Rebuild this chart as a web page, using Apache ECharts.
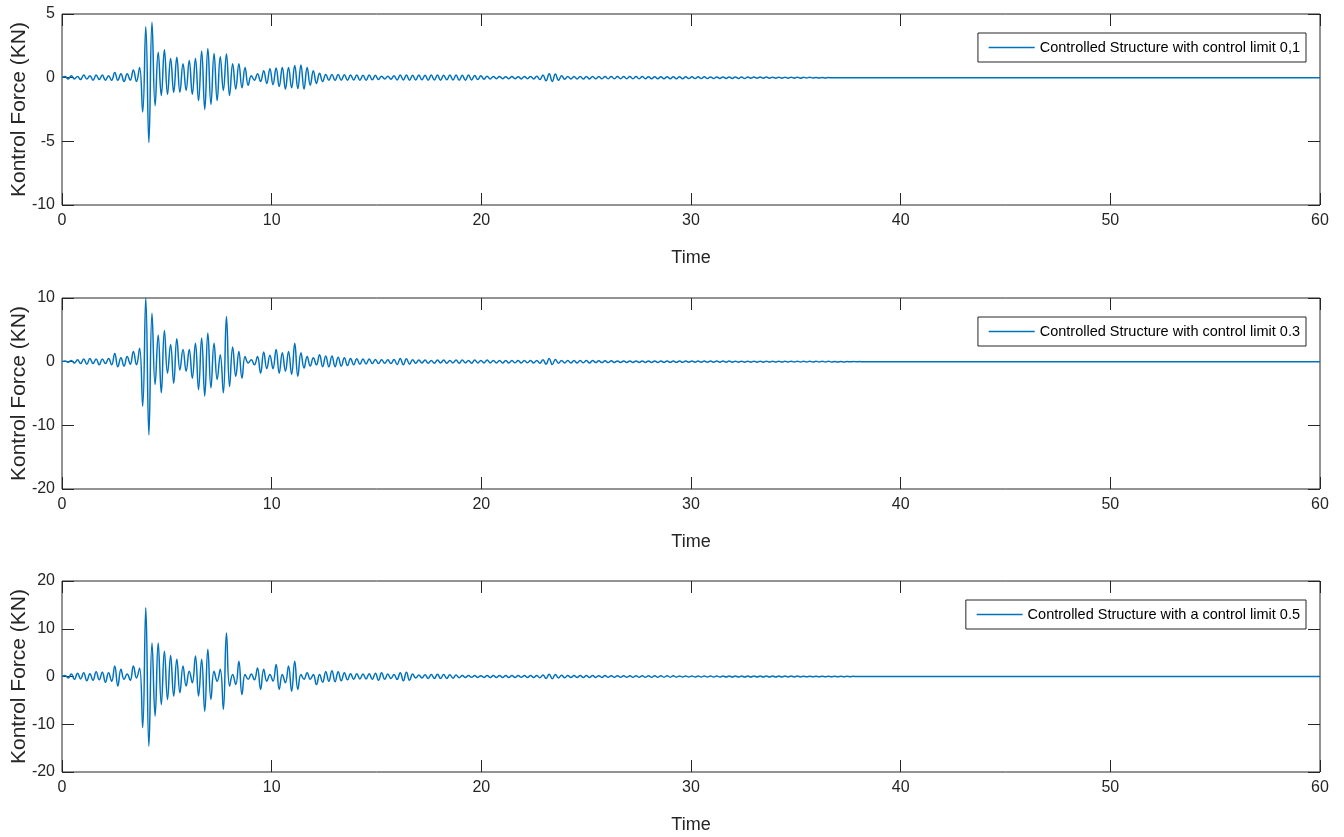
<!DOCTYPE html>
<html><head><meta charset="utf-8">
<script src="https://cdn.jsdelivr.net/npm/echarts@6/dist/echarts.min.js"></script>
<style>html,body{margin:0;padding:0;background:#fff}#c{width:1344px;height:837px}</style>
</head><body><div id="c"></div>
<script>
// ---- data: successive peaks / troughs, one every SAMPLE_DT seconds ----
const SAMPLE_DT = 0.148;
const END_POINT = [60, 0];
const xTicks = [0, 10, 20, 30, 40, 50, 60];
const seriesNames = [
  'Controlled Structure with control limit 0,1',
  'Controlled Structure with control limit 0.3',
  'Controlled Structure with a control limit 0.5'
];
const yRanges = [[-10, 5, 5], [-20, 10, 10], [-20, 20, 10]]; // min, max, interval

const force01 = [
  0, 0.1, -0.1, 0.15, -0.1, 0.1, -0.15, 0.2, -0.1, 0.15,
  -0.2, 0.2, -0.15, 0.2, -0.2, 0.15, -0.2, 0.4, -0.2, 0.3,
  -0.3, 0.3, -0.2, 0.6, -0.3, 0.8, -2.7, 4.0, -5.1, 4.35,
  -2.2, 2.0, -1.4, 2.2, -1.3, 1.5, -1.15, 1.6, -1.15, 1.1,
  -1.0, 1.35, -1.3, 1.5, -1.8, 2.1, -2.5, 2.3, -2.1, 1.9,
  -1.8, 1.65, -1.0, 1.85, -1.4, 1.1, -0.9, 1.1, -0.8, 0.8,
  -0.6, 0.15, -0.2, 0.3, -0.3, 0.55, -0.45, 0.7, -0.55, 0.75,
  -0.7, 0.8, -0.9, 0.8, -0.8, 0.95, -0.85, 1.0, -0.9, 0.8,
  -0.6, 0.55, -0.45, 0.35, -0.3, 0.25, -0.2,
  0.25, -0.22, 0.24, -0.2, 0.22, -0.2, 0.2, -0.18, 0.2, -0.2,
  0.18, -0.2, 0.2, -0.17, 0.18, -0.15, 0.12, -0.1, 0.12, -0.12,
  0.15, -0.18, 0.2, -0.18, 0.2, -0.2, 0.18, -0.18, 0.2, -0.17,
  0.18, -0.2, 0.2, -0.18, 0.2, -0.2, 0.18, -0.17, 0.2, -0.18,
  0.2, -0.2, 0.18, -0.2, 0.2, -0.18, 0.17, -0.15, 0.15, -0.12,
  0.12, -0.1, 0.1, -0.08, 0.1, -0.08, 0.08, -0.08, 0.1, -0.08,
  0.08, -0.1, 0.1, -0.08, 0.1, -0.1, 0.12, -0.15, 0.2, -0.25,
  0.3, -0.3, 0.28, -0.2, 0.15, -0.12, 0.1, -0.1, 0.1, -0.1,
  0.1, -0.1, 0.09, -0.1, 0.1, -0.09, 0.1, -0.09, 0.09, -0.09,
  0.09, -0.09, 0.09, -0.09, 0.09, -0.09, 0.09, -0.09, 0.09, -0.09,
  0.09, -0.09, 0.08, -0.09, 0.08, -0.08, 0.08, -0.08, 0.08, -0.08,
  0.08, -0.08, 0.07, -0.08, 0.07, -0.07, 0.07, -0.07, 0.07, -0.07,
  0.07, -0.07, 0.06, -0.07, 0.06, -0.06, 0.06, -0.06, 0.06, -0.06,
  0.06, -0.06, 0.05, -0.06, 0.05, -0.05, 0.05, -0.05, 0.05, -0.05,
  0.05, -0.05, 0.04, -0.05, 0.04, -0.04, 0.04, -0.04, 0.04, -0.04,
  0.04, -0.04, 0.03, -0.03, 0.03, -0.03, 0.02, -0.02, 0.02, -0.02, 0.01, -0.01, 0
];

const force03 = [
  0, 0.1, -0.1, 0.2, -0.2, 0.3, -0.3, 0.4, -0.4, 0.5,
  -0.3, 0.4, -0.5, 0.4, -0.3, 0.5, -0.5, 1.3, -0.8, 0.6,
  -0.7, 0.8, -0.4, 1.6, -0.5, 2.1, -7.0, 10.0, -11.5, 7.6,
  -3.6, 4.2, -4.9, 4.9, -1.8, 2.7, -3.4, 3.6, -1.3, 1.9,
  -1.5, 1.9, -2.6, 2.9, -4.4, 3.7, -5.4, 4.5, -4.1, 2.9,
  -2.8, 1.1, -4.9, 7.1, -3.9, 2.3, -2.3, 1.6, -2.6, 0.8,
  -0.2, 0.3, -0.5, 0.8, -1.8, 1.5, -1.1, 1.0, -1.1, 1.9,
  -1.8, 1.4, -1.5, 1.6, -2.0, 2.9, -2.3, 1.4, -1.0, 0.8,
  -0.7, 0.6, -0.5, 1.1, -0.8, 0.9, -0.8,
  0.9, -0.8, 0.7, -0.7, 0.6, -0.6, 0.5, -0.5, 0.45, -0.4,
  0.4, -0.35, 0.4, -0.3, 0.35, -0.3, 0.3, -0.25, 0.3, -0.3,
  0.35, -0.45, 0.5, -0.5, 0.45, -0.4, 0.3, -0.25, 0.25, -0.2,
  0.25, -0.25, 0.2, -0.25, 0.25, -0.2, 0.25, -0.25, 0.2, -0.2,
  0.25, -0.25, 0.25, -0.2, 0.2, -0.25, 0.25, -0.2, 0.2, -0.2,
  0.25, -0.2, 0.2, -0.2, 0.2, -0.2, 0.18, -0.2, 0.2, -0.18,
  0.18, -0.2, 0.2, -0.18, 0.18, -0.2, 0.2, -0.25, 0.3, -0.4,
  0.5, -0.45, 0.35, -0.25, 0.2, -0.2, 0.2, -0.2, 0.18, -0.2,
  0.2, -0.18, 0.18, -0.2, 0.18, -0.15, 0.15, -0.15, 0.15, -0.15,
  0.13, -0.12, 0.12, -0.12, 0.12, -0.12, 0.12, -0.12, 0.12, -0.12,
  0.12, -0.12, 0.12, -0.12, 0.12, -0.12, 0.11, -0.11, 0.11, -0.11,
  0.11, -0.11, 0.11, -0.11, 0.1, -0.1, 0.1, -0.1, 0.1, -0.1,
  0.1, -0.1, 0.1, -0.1, 0.09, -0.09, 0.09, -0.09, 0.09, -0.09,
  0.08, -0.08, 0.08, -0.08, 0.08, -0.08, 0.08, -0.08, 0.08, -0.08,
  0.07, -0.07, 0.07, -0.07, 0.07, -0.07, 0.07, -0.07, 0.06, -0.06,
  0.06, -0.06, 0.06, -0.06, 0.06, -0.06, 0.05, -0.05, 0.05, -0.05,
  0.05, -0.05, 0.04, -0.04, 0.04, -0.04, 0.03, -0.03, 0.03, -0.02, 0.02, -0.01, 0
];

const force05 = [
  0, 0.2, -0.3, 0.5, -0.6, 0.7, -0.5, 0.8, -0.9, 0.6,
  -0.8, 1.0, -0.7, 0.9, -1.2, 0.8, -1.0, 2.2, -2.0, 1.5,
  -0.6, 0.5, -0.8, 2.2, -0.3, 1.8, -10.7, 14.4, -14.6, 7.0,
  -8.3, 7.0, -5.9, 5.3, -4.8, 4.4, -4.1, 3.6, -3.4, 2.2,
  -2.0, 1.1, -1.3, 4.3, -4.1, 3.6, -7.3, 5.7, -4.8, 1.1,
  -1.0, 1.5, -6.9, 9.1, -2.0, 0.4, -1.7, 3.2, -3.8, 0.4,
  -0.6, 0.5, -0.7, 1.8, -2.7, 1.5, -1.0, 0.4, -1.0, 2.5,
  -2.7, 0.4, -1.3, 2.2, -3.1, 3.2, -2.7, 0.4, -0.6, 0.8,
  -0.6, 0.4, -1.7, 0.4, -1.2, 1.0, -1.0,
  1.2, -1.1, 1.0, -0.9, 0.8, -0.7, 0.6, -0.6, 0.55, -0.5,
  0.5, -0.5, 0.55, -0.6, 0.7, -0.8, 0.8, -0.6, 0.5, -0.4,
  0.4, -0.6, 0.8, -0.9, 0.9, -0.8, 0.5, -0.3, 0.3, -0.3,
  0.35, -0.4, 0.4, -0.4, 0.45, -0.4, 0.4, -0.4, 0.35, -0.35,
  0.3, -0.25, 0.2, -0.2, 0.2, -0.18, 0.2, -0.2, 0.18, -0.2,
  0.2, -0.2, 0.22, -0.2, 0.2, -0.22, 0.2, -0.2, 0.2, -0.2,
  0.2, -0.18, 0.2, -0.2, 0.2, -0.22, 0.22, -0.25, 0.3, -0.4,
  0.45, -0.45, 0.4, -0.3, 0.25, -0.25, 0.22, -0.22, 0.2, -0.2,
  0.22, -0.2, 0.2, -0.2, 0.2, -0.2, 0.18, -0.2, 0.2, -0.18,
  0.18, -0.18, 0.18, -0.18, 0.18, -0.16, 0.16, -0.16, 0.16, -0.16,
  0.15, -0.15, 0.15, -0.15, 0.15, -0.15, 0.14, -0.14, 0.14, -0.14,
  0.14, -0.14, 0.13, -0.13, 0.13, -0.13, 0.13, -0.13, 0.12, -0.12,
  0.12, -0.12, 0.12, -0.12, 0.12, -0.12, 0.11, -0.11, 0.11, -0.11,
  0.11, -0.11, 0.1, -0.1, 0.1, -0.1, 0.1, -0.1, 0.1, -0.1,
  0.09, -0.09, 0.09, -0.09, 0.09, -0.09, 0.08, -0.08, 0.08, -0.08,
  0.08, -0.08, 0.07, -0.07, 0.07, -0.07, 0.06, -0.06, 0.06, -0.06,
  0.05, -0.05, 0.05, -0.05, 0.04, -0.04, 0.04, -0.03, 0.03, -0.02, 0.02, -0.01, 0
];

const allForces = [force01, force03, force05];

// ---- layout / style ----
const FONT = '"Liberation Sans",Arial,sans-serif';
const INK = '#262626';
const LINE = '#0072BD';
const panelTops = [14, 298, 581];
const panelHeight = 191;
const legendTops = [33, 317, 600];

function toPairs(vals) {
  const out = vals.map((v, i) => [+(i * SAMPLE_DT).toFixed(4), v]);
  out.push(END_POINT);
  return out;
}

const grid = [], xAxis = [], yAxis = [], series = [], legend = [];
panelTops.forEach((top, k) => {
  grid.push({ left: 62, right: 24, top: top, height: panelHeight, show: true,
    borderColor: INK, borderWidth: 1, backgroundColor: '#fff',
    containLabel: false, outerBoundsMode: 'none' });
  const tick = { show: true, inside: true, length: 12, lineStyle: { color: INK, width: 1 } };
  const xCommon = { type: 'value', gridIndex: k, min: xTicks[0], max: xTicks[xTicks.length - 1],
    interval: xTicks[1] - xTicks[0], splitLine: { show: false },
    axisLine: { show: false, onZero: false }, axisTick: tick };
  xAxis.push(Object.assign({}, xCommon, { position: 'bottom',
    name: 'Time', nameLocation: 'middle', nameGap: 44, nameMoveOverlap: false,
    nameTextStyle: { fontFamily: FONT, fontSize: 18, color: INK },
    axisLabel: { show: true, margin: 8, fontFamily: FONT, fontSize: 16, color: INK } }));
  xAxis.push(Object.assign({}, xCommon, { position: 'top', axisLabel: { show: false } }));
  const [ymin, ymax, yint] = yRanges[k];
  const yCommon = { type: 'value', gridIndex: k, min: ymin, max: ymax, interval: yint,
    splitLine: { show: false }, axisLine: { show: false, onZero: false }, axisTick: tick };
  yAxis.push(Object.assign({}, yCommon, { position: 'left',
    name: 'Kontrol Force (KN)', nameLocation: 'middle', nameGap: 32, nameMoveOverlap: false,
    nameTextStyle: { fontFamily: FONT, fontSize: 21, color: INK },
    axisLabel: { show: true, margin: 7, fontFamily: FONT, fontSize: 16, color: INK } }));
  yAxis.push(Object.assign({}, yCommon, { position: 'right', axisLabel: { show: false } }));
  series.push({ type: 'line', name: seriesNames[k], xAxisIndex: 2 * k, yAxisIndex: 2 * k,
    data: toPairs(allForces[k]), symbol: 'none', showSymbol: false, smooth: 0.45,
    lineStyle: { color: LINE, width: 1.5 }, itemStyle: { color: LINE } });
  legend.push({ data: [seriesNames[k]], right: 38, top: legendTops[k], orient: 'horizontal',
    backgroundColor: '#fff', borderColor: INK, borderWidth: 1, borderRadius: 0,
    padding: [7, 6, 7, 10], itemWidth: 46, itemHeight: 14, itemGap: 5,
    selectedMode: false,
    itemStyle: { opacity: 0 },
    lineStyle: { color: LINE, width: 1.5, opacity: 1 },
    textStyle: { fontFamily: FONT, fontSize: 14.5, color: '#000' } });
});

const chart = echarts.init(document.getElementById('c'), null, { renderer: 'canvas' });
chart.setOption({ animation: false, backgroundColor: '#fff', grid, xAxis, yAxis, series, legend });
</script>
</body></html>
